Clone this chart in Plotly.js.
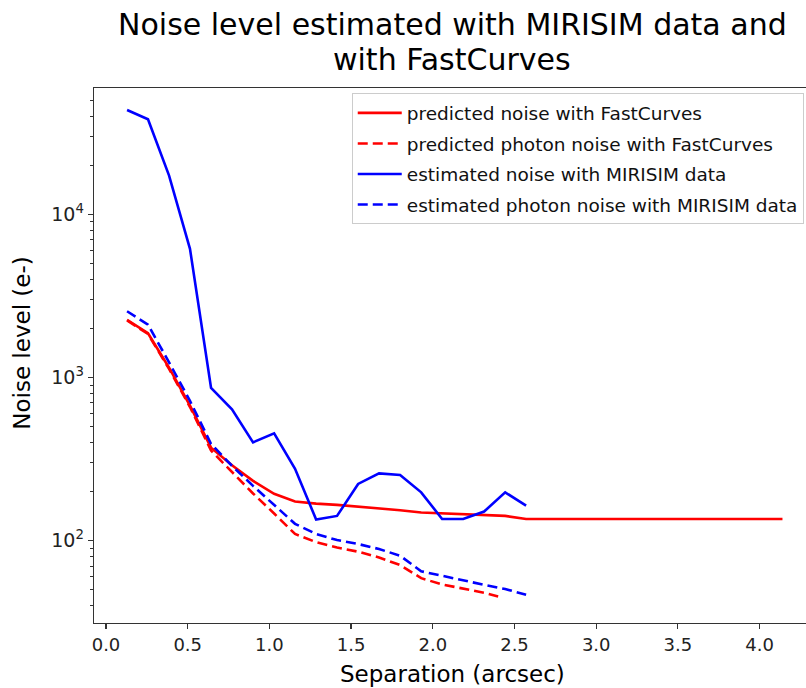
<!DOCTYPE html>
<html>
<head>
<meta charset="utf-8">
<script src="https://cdn.plot.ly/plotly-3.0.1.min.js"></script>
<style>html,body{margin:0;padding:0;background:#fff;}#chart{width:806px;height:688px;}</style>
</head>
<body>
<div id="chart"></div>
<script>
// Separation grid (arcsec)
const sepMiri = [0.129,0.257,0.386,0.514,0.643,0.771,0.900,1.029,1.157,1.286,1.414,1.543,1.671,1.800,1.929,2.057,2.186,2.314,2.443,2.571];
// Estimated noise with MIRISIM data (e-)
const noiseMiri = [43700,38300,17300,6160,865,640,401,455,276,135,142,223,259,253,198,136,136,151,198,164];
// Estimated photon noise with MIRISIM data (e-)
const photonMiri = [2550,2110,1240,720,392,288,217,165,127,110,101,95.5,89,81,65,61,57,53.7,50.6,46.7];
// FastCurves separation grid
const sepFC = [0.129,0.257,0.386,0.514,0.643,0.771,0.900,1.029,1.157,1.286,1.414,1.543,1.671,1.800,1.929,2.057,2.186,2.314,2.443,2.571,4.140];
// Predicted noise with FastCurves (e-)
const noiseFC = [2260,1870,1150,673,372,290,233,194,174,169,166,162,158,154,149,147,146,144.5,142,136,136];
// Predicted photon noise with FastCurves (e-)
const sepFCPhoton = [0.129,0.257,0.386,0.514,0.643,0.771,0.900,1.029,1.157,1.286,1.414,1.543,1.671,1.800,1.929,2.057,2.186,2.314,2.400];
const photonFC = [2240,1850,1130,660,357,265,195,147,110,98,91,85.7,79,71,59,54,51,48,45.5];

const xTicks = [0,0.5,1,1.5,2,2.5,3,3.5,4];
const xTickText = ['0.0','0.5','1.0','1.5','2.0','2.5','3.0','3.5','4.0'];
const yTicks = [100, 1000, 10000];
const yTickText = ['10<sup>2</sup>', '10<sup>3</sup>', '10<sup>4</sup>'];

const titleLines = ['Noise level estimated with MIRISIM data and', 'with FastCurves'];
const xTitle = 'Separation (arcsec)';
const yTitle = 'Noise level (e-)';

const RED = '#ff0000', BLUE = '#0000ff';
const LW = 2.6;
const DASH = '10px,5px';

const traces = [
  {x: sepFC, y: noiseFC, name: 'predicted noise with FastCurves', legendgroup:'a',
   mode: 'lines', line: {color: RED, width: LW}},
  {x: sepFCPhoton, y: photonFC, name: 'predicted photon noise with FastCurves', legendgroup:'b',
   mode: 'lines', line: {color: RED, width: LW, dash: DASH}},
  {x: sepMiri, y: noiseMiri, name: 'estimated noise with MIRISIM data', legendgroup:'c',
   mode: 'lines', line: {color: BLUE, width: LW}},
  {x: sepMiri, y: photonMiri, name: 'estimated photon noise with MIRISIM data', legendgroup:'d',
   mode: 'lines', line: {color: BLUE, width: LW, dash: DASH}}
];

const minorVals = [];
for (let d = 1; d <= 4; d++) {
  for (let k = 2; k <= 9; k++) minorVals.push(k * Math.pow(10, d));
}

const layout = {
  width: 806, height: 688,
  paper_bgcolor: '#fff', plot_bgcolor: '#fff',
  margin: {l: 94, r: 0, t: 88, b: 65},
  font: {family: 'DejaVu Sans', color: '#000'},
  showlegend: true,
  legend: {
    x: 0.362, y: 0.99, xanchor: 'left', yanchor: 'top',
    bgcolor: 'rgba(255,255,255,0.8)', bordercolor: '#cccccc', borderwidth: 1,
    font: {size: 18.5, family: 'DejaVu Sans', color: '#111'},
    itemwidth: 44, tracegroupgap: 3.5
  },
  xaxis: {
    range: [-0.0734, 4.284],
    tickmode: 'array', tickvals: xTicks, ticktext: xTickText,
    ticks: 'outside', ticklen: 5, tickwidth: 1.2, tickcolor: '#333',
    showgrid: false, zeroline: false,
    showline: true, linecolor: '#333', linewidth: 1.3, mirror: true,
    tickfont: {size: 18, color: '#222'}
  },
  yaxis: {
    type: 'log', range: [1.496, 4.775],
    tickmode: 'array', tickvals: yTicks, ticktext: yTickText,
    ticks: 'outside', ticklen: 5, tickwidth: 1.2, tickcolor: '#333',
    minor: {tickmode: 'array', tickvals: minorVals, ticks: 'outside', ticklen: 3, tickwidth: 1, tickcolor: '#333', showgrid: false},
    showgrid: false, zeroline: false,
    showline: true, linecolor: '#333', linewidth: 1.3, mirror: false,
    tickfont: {size: 19, color: '#222'}
  },
  annotations: [
    {text: titleLines[0], xref: 'paper', yref: 'paper', x: 0.503, y: 1.1196,
     xanchor: 'center', yanchor: 'middle', showarrow: false,
     font: {size: 30, color: '#000', family: 'DejaVu Sans'}},
    {text: titleLines[1], xref: 'paper', yref: 'paper', x: 0.503, y: 1.054,
     xanchor: 'center', yanchor: 'middle', showarrow: false,
     font: {size: 30, color: '#000', family: 'DejaVu Sans'}},
    {text: xTitle, xref: 'paper', yref: 'paper', x: 0.503, y: -0.0953,
     xanchor: 'center', yanchor: 'middle', showarrow: false,
     font: {size: 23, color: '#000', family: 'DejaVu Sans'}},
    {text: yTitle, xref: 'paper', yref: 'paper', x: -0.101, y: 0.524,
     xanchor: 'center', yanchor: 'middle', showarrow: false, textangle: -90,
     font: {size: 23, color: '#000', family: 'DejaVu Sans'}}
  ]
};

Plotly.newPlot('chart', traces, layout, {displayModeBar: false, staticPlot: true});
</script>
</body>
</html>
